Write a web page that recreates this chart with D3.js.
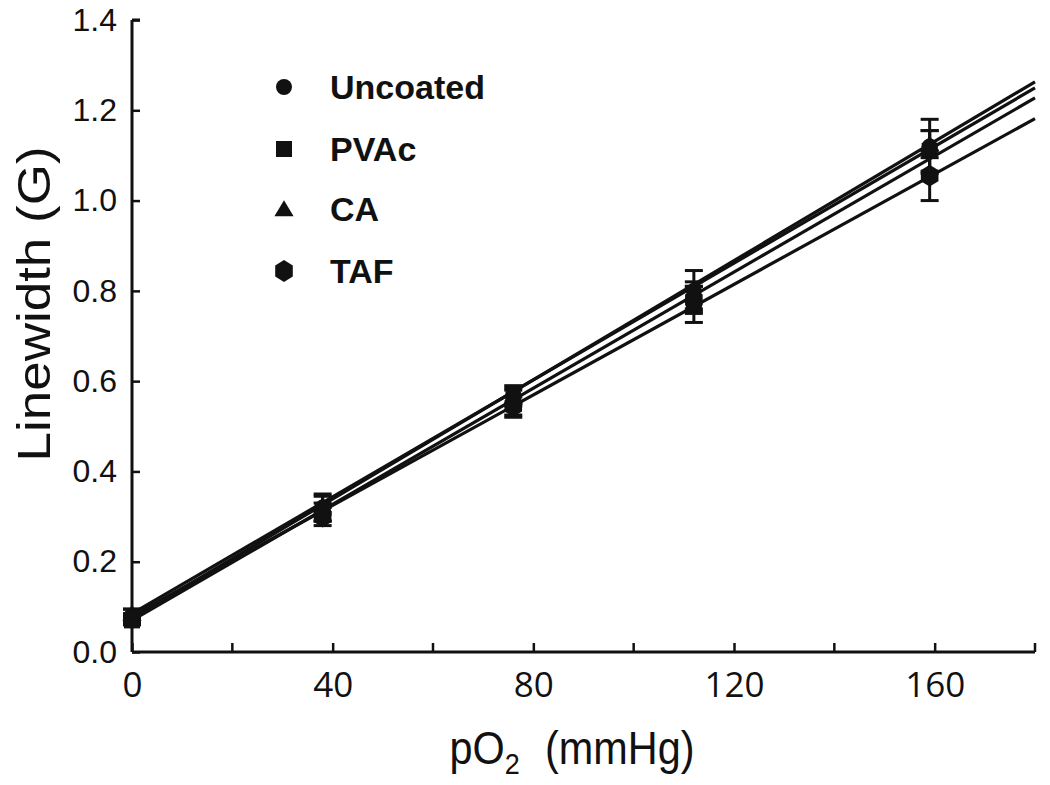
<!DOCTYPE html>
<html><head><meta charset="utf-8">
<script src="https://cdn.jsdelivr.net/npm/d3@7"></script>
<style>body{margin:0;background:#fff}svg{display:block}</style>
</head><body>
<svg id="c" width="1050" height="785"></svg>
<script>
const pO2 = [0, 38, 76, 112, 159];
const seriesNames = ["Uncoated", "PVAc", "CA", "TAF"];
const symbols = ["circle", "square", "triangle", "hexagon"];
const uncoated = [0.080, 0.320, 0.570, 0.800, 1.120];
const pvac     = [0.070, 0.310, 0.550, 0.770, 1.110];
const ca       = [0.085, 0.325, 0.565, 0.790, 1.125];
const taf      = [0.075, 0.300, 0.545, 0.780, 1.055];
const errUncoated = [0.015, 0.030, 0.020, 0.045, 0.060];
const errPvac     = [0.010, 0.020, 0.030, 0.040, 0.045];
const errCa       = [0.010, 0.020, 0.020, 0.030, 0.030];
const errTaf      = [0.010, 0.020, 0.020, 0.030, 0.055];
const fitIntercept = [0.075, 0.070, 0.085, 0.080];
const fitSlope     = [0.00660, 0.00643, 0.00647, 0.00612];
const xTicks = [0, 40, 80, 120, 160];
const xMinorTicks = [20, 60, 100, 140, 180];
const yTicks = [0.0, 0.2, 0.4, 0.6, 0.8, 1.0, 1.2, 1.4];

const values = [uncoated, pvac, ca, taf];
const errors = [errUncoated, errPvac, errCa, errTaf];
const FONT = "Liberation Sans, Arial, sans-serif";

const svg = d3.select("#c");
const x = d3.scaleLinear().domain([0, 180]).range([132, 1035]);
const y = d3.scaleLinear().domain([0, 1.4]).range([652, 20]);

// x axis
const xAxis = d3.axisBottom(x).tickValues(xTicks).tickSize(-9).tickFormat(d3.format("d")).tickPadding(20);
const gx = svg.append("g").attr("transform", "translate(0,652)").call(xAxis);
gx.append("g").selectAll("line").data(xMinorTicks).join("line")
  .attr("x1", d => x(d)).attr("x2", d => x(d)).attr("y1", 0).attr("y2", -9);
gx.select(".domain").attr("d", `M${x(0)},0H${x(180)}`).attr("stroke", "#111").attr("stroke-width", 3);
gx.selectAll("line").attr("stroke", "#111").attr("stroke-width", 2.5);
gx.selectAll("text").attr("font-family", "Open Sans, sans-serif").attr("font-size", 35).attr("fill", "#111").attr("dy", "0.71em");

// y axis
const yAxis = d3.axisLeft(y).tickValues(yTicks).tickSize(-8).tickFormat(d3.format(".1f")).tickPadding(15);
const gy = svg.append("g").attr("transform", "translate(132,0)").call(yAxis);
gy.select(".domain").attr("d", `M0,${y(1.4)}V${y(0)}M0,${y(1.4)}H8`).attr("stroke", "#111").attr("stroke-width", 3).attr("fill", "none");
gy.selectAll("line").attr("stroke", "#111").attr("stroke-width", 2.5);
gy.selectAll("text").attr("font-family", FONT).attr("font-size", 32).attr("fill", "#111");

// axis titles
const xt = svg.append("text").attr("transform", "translate(572,764) scale(0.9,1)").attr("text-anchor", "middle")
  .attr("font-family", FONT).attr("font-size", 46).attr("fill", "#111");
xt.append("tspan").text("pO");
xt.append("tspan").text("2").attr("font-size", 30).attr("dy", 10);
xt.append("tspan").text("(mmHg)").attr("dy", -10).attr("dx", 28);

svg.append("text").attr("transform", "translate(50,304) rotate(-90) scale(1,0.88)").attr("text-anchor", "middle")
  .attr("font-family", FONT).attr("font-size", 53).attr("fill", "#111")
  .text("Linewidth (G)");

// fit lines
const line = d3.line().x(d => x(d[0])).y(d => y(d[1]));
seriesNames.forEach((n, i) => {
  svg.append("path").attr("d", line([[0, fitIntercept[i]], [180, fitIntercept[i] + fitSlope[i] * 180]]))
    .attr("stroke", "#111").attr("stroke-width", 3.2).attr("fill", "none");
});

// symbol function
function sym(g, type, cx, cy, s) {
  if (type === "circle") g.append("circle").attr("cx", cx).attr("cy", cy).attr("r", s * 0.5);
  else if (type === "square") g.append("rect").attr("x", cx - s * 0.5).attr("y", cy - s * 0.5).attr("width", s).attr("height", s);
  else if (type === "triangle") {
    g.append("path").attr("d", `M${cx},${cy - s * 0.55}L${cx + s * 0.6},${cy + s * 0.45}L${cx - s * 0.6},${cy + s * 0.45}Z`);
  } else {
    const rx = s * 0.55, ry = s * 0.68;
    const pts = d3.range(6).map(k => { const a = -Math.PI / 2 + k * Math.PI / 3; return [cx + rx * Math.cos(a) / Math.cos(Math.PI / 6) * (k % 3 === 0 ? 0 : 1), cy + ry * Math.sin(a)]; });
    g.append("path").attr("d", "M" + pts.join("L") + "Z");
  }
}

// error bars
seriesNames.forEach((n, i) => {
  const g = svg.append("g").attr("fill", "#111").attr("stroke", "#111");
  pO2.forEach((p, j) => {
    const cx = x(p), v = values[i][j], e = errors[i][j];
    g.append("line").attr("x1", cx).attr("x2", cx).attr("y1", y(v - e)).attr("y2", y(v + e)).attr("stroke-width", 3);
    [v - e, v + e].forEach(t => g.append("line").attr("x1", cx - 9).attr("x2", cx + 9).attr("y1", y(t)).attr("y2", y(t)).attr("stroke-width", 3));
  });
});
// markers
seriesNames.forEach((n, i) => {
  const g = svg.append("g").attr("fill", "#111").attr("stroke", "none");
  pO2.forEach((p, j) => sym(g, symbols[i], x(p), y(values[i][j]), 16));
});

// legend
const legendY = [87, 149, 209, 271];
seriesNames.forEach((n, i) => {
  const cy = legendY[i];
  const g = svg.append("g").attr("fill", "#111");
  sym(g, symbols[i], 284, cy, 16);
  svg.append("text").attr("x", 330).attr("y", cy).attr("dy", "0.36em")
    .attr("font-family", FONT).attr("font-weight", "bold").attr("font-size", 34).attr("fill", "#111")
    .text(n);
});
</script>
</body></html>
